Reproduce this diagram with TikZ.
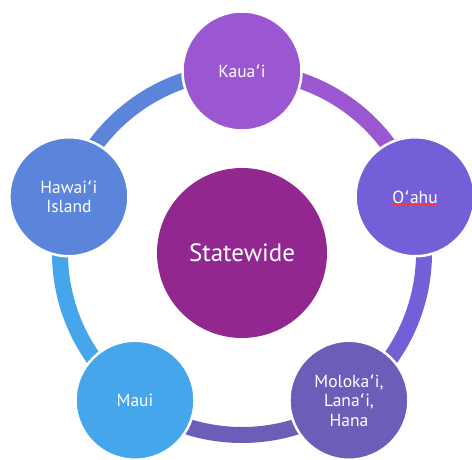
\documentclass[tikz,border=0pt]{standalone}
\usepackage{fontspec}
\setmainfont{PT Sans}
\newfontfamily\okinafont{DejaVu Sans}
\newcommand{\okina}{{\okinafont ʻ}}
\usetikzlibrary{calc}
\definecolor{ckauai}{HTML}{9B56D2}
\definecolor{coahu}{HTML}{755FD8}
\definecolor{cmolo}{HTML}{6A5EB8}
\definecolor{cmaui}{HTML}{46A6EB}
\definecolor{chawaii}{HTML}{5A85DB}
\definecolor{cstate}{HTML}{92278F}
\tikzset{
  island/.style={circle, draw=white, line width=2.5pt, minimum size=119pt, inner sep=0pt,
    text=white, align=center, font=\fontsize{17.5}{19.5}\selectfont},
  ring/.style={line width=16pt},
  hub/.style={circle, minimum size=170pt, inner sep=0pt, fill=cstate, text=white,
    font=\fontsize{25}{29}\selectfont},
}
\begin{document}
\begin{tikzpicture}[x=1pt,y=1pt]
\useasboundingbox (0,0) rectangle (472,460);
\coordinate (c) at (242,207);
\coordinate (p1) at ($(c)+(90:182)$);
\coordinate (p2) at ($(c)+(18:182)$);
\coordinate (p3) at ($(c)+(-54:182)$);
\coordinate (p4) at ($(c)+(-126:182)$);
\coordinate (p5) at ($(c)+(162:182)$);
% ring segments
\draw[ring, ckauai] (p1) arc[start angle=90, end angle=18, radius=182];
\draw[ring, coahu] (p2) arc[start angle=18, end angle=-54, radius=182];
\draw[ring, cmolo] (p3) arc[start angle=-54, end angle=-126, radius=182];
\draw[ring, cmaui] (p4) arc[start angle=-126, end angle=-198, radius=182];
\draw[ring, chawaii] (p5) arc[start angle=162, end angle=90, radius=182];
% nodes
\node[hub] (state) at (c) {Statewide};
\node[island, fill=ckauai] (kauai) at (p1) {Kaua\okina i};
\node[island, fill=coahu] (oahu) at (p2) {};
\node[inner sep=0pt, text=white, font=\fontsize{17.5}{19.5}\selectfont] (oahutext) at (oahu.center) {O\okina ahu};
\draw[line width=1pt, color=red!80!white] ([yshift=-1.5pt]oahutext.south west) -- ([yshift=-1.5pt]oahutext.south east);
\node[island, fill=cmolo] (molokai) at (p3) {Moloka\okina i,\\Lana\okina i,\\Hana};
\node[island, fill=cmaui] (maui) at (p4) {Maui};
\node[island, fill=chawaii] (hawaii) at (p5) {Hawai\okina i\\Island};
\end{tikzpicture}
\end{document}
